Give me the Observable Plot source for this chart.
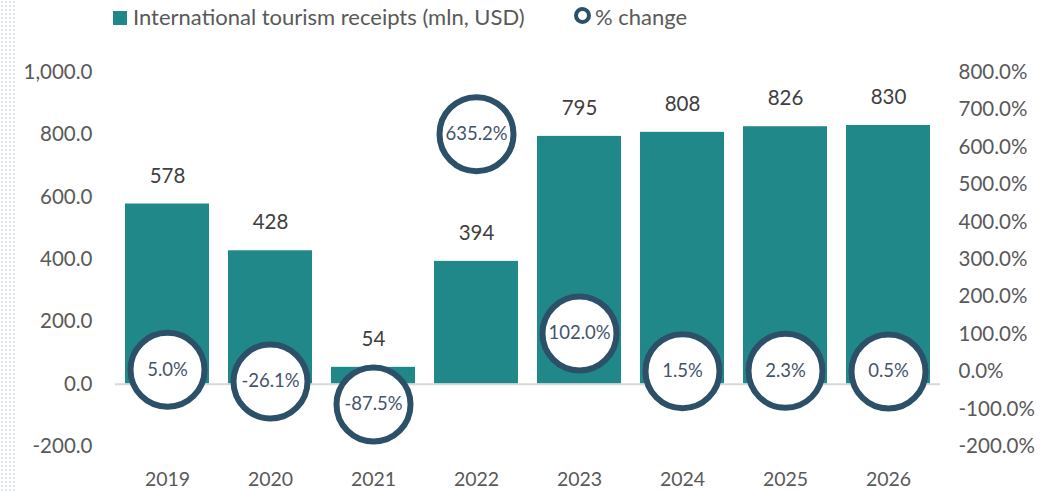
<!DOCTYPE html>
<html>
<head>
<meta charset="utf-8">
<script src="https://cdn.jsdelivr.net/npm/d3@7"></script>
<script src="https://cdn.jsdelivr.net/npm/@observablehq/plot@0.6"></script>
<style>
  html, body { margin: 0; padding: 0; background: #fff; }
  body { width: 1042px; height: 491px; position: relative; overflow: hidden; font-family: Lato, "Open Sans", sans-serif; }
  #dots { position: absolute; left: 0; top: 0; width: 16px; height: 491px;
    background-image: radial-gradient(circle, #dde6f0 0.9px, transparent 1.1px);
    background-size: 4px 4px; }
  #legend { position: absolute; left: 0; top: 0; width: 1042px; height: 36px; }
  .item { position: absolute; top: 5px; font-size: 22px; color: #595959; line-height: 24px; white-space: nowrap; }
  .sq { display: inline-block; width: 14px; height: 14px; background: #21888a; vertical-align: 0px; margin-right: 6px; }
  .ring { display: inline-block; width: 9px; height: 9px; border-radius: 50%; border: 4px solid #2c5068; background: #fff; vertical-align: 1px; margin-right: 4px; }
  #chart { position: absolute; left: 0; top: 36px; }
</style>
</head>
<body>
<div id="dots"></div>
<div id="legend">
  <div class="item" style="left:113px"><span class="sq"></span>International tourism receipts (mln, USD)</div>
  <div class="item" style="left:574px"><span class="ring"></span>% change</div>
</div>
<div id="chart"></div>
<script>
const years = ["2019", "2020", "2021", "2022", "2023", "2024", "2025", "2026"];
const receipts = [578, 428, 54, 394, 795, 808, 826, 830];
const pctChange = [5.0, -26.1, -87.5, 635.2, 102.0, 1.5, 2.3, 0.5];
const leftTicks = [-200, 0, 200, 400, 600, 800, 1000];
const rightTicks = [-200, -100, 0, 100, 200, 300, 400, 500, 600, 700, 800];

// secondary axis: right domain [-200, 800] shares pixel span with left domain [-200, 1000]
const toLeft = p => -200 + (p + 200) * 1.2;
const toRight = v => (v + 200) / 1.2 - 200;
const hy = s => s.replace(/\u2212/g, "-");
const fmtLeft = v => hy(d3.format(",.1f")(v));
const fmtPct = p => hy(d3.format(".1f")(p)) + "%";

const data = years.map((y, i) => ({year: y, receipts: receipts[i], pct: pctChange[i]}));

const teal = "#21888a";
const navy = "#2c5068";

const chart = Plot.plot({
  width: 1042,
  height: 455,
  marginTop: 36,
  marginBottom: 45,
  marginLeft: 115,
  marginRight: 102,
  style: {fontFamily: "Lato, 'Open Sans', sans-serif", background: "transparent"},
  x: {domain: years, paddingInner: 0.18, paddingOuter: 0.09},
  y: {domain: [-200, 1000]},
  marks: [
    Plot.barY(data, {x: "year", y: "receipts", fill: teal}),
    Plot.ruleY([0], {stroke: "#d9d9d9", strokeWidth: 2}),
    Plot.text(data, {x: "year", y: "receipts", text: d => String(d.receipts), dy: -28, fontSize: 20.5, fill: "#404040"}),
    Plot.dot(data, {x: "year", y: d => toLeft(d.pct), r: 37, fill: "white", stroke: navy, strokeWidth: 6}),
    Plot.text(data, {x: "year", y: d => toLeft(d.pct), text: d => fmtPct(d.pct), fontSize: 18.5, fill: "#44546a"}),
    Plot.axisY({ticks: leftTicks, tickFormat: fmtLeft, tickSize: 0, tickPadding: 23, fontSize: 20.5, color: "#595959", label: null}),
    Plot.axisY({anchor: "right", ticks: rightTicks.map(toLeft), tickFormat: v => fmtPct(Math.round(toRight(v))), tickSize: 0, tickPadding: 18, fontSize: 20.5, color: "#595959", label: null, textAnchor: "start"}),
    Plot.axisX({tickSize: 0, tickPadding: 26, fontSize: 19.5, color: "#595959", label: null})
  ]
});
document.getElementById("chart").appendChild(chart);
</script>
</body>
</html>
